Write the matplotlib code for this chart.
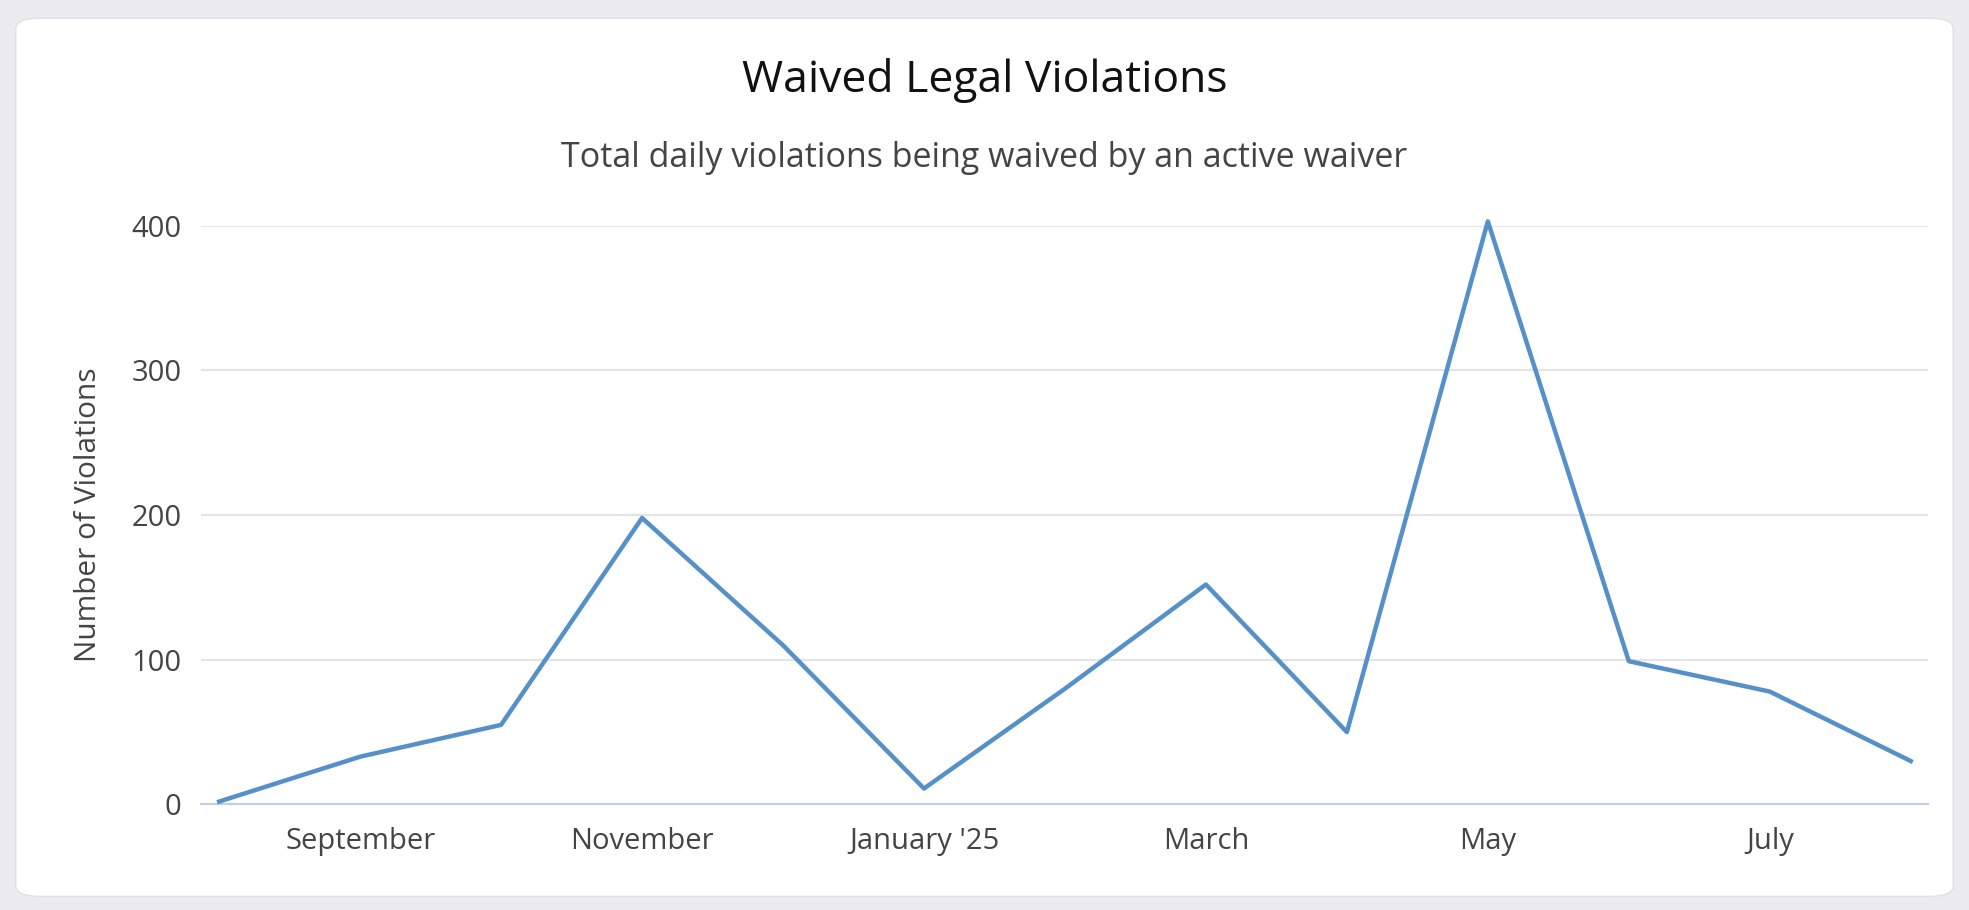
"""Waived legal violations line chart."""
import matplotlib.pyplot as plt
from matplotlib.patches import FancyBboxPatch

months = ['Aug', 'Sep', 'Oct', 'Nov', 'Dec', 'Jan', 'Feb', 'Mar', 'Apr',
          'May', 'Jun', 'Jul', 'Aug']
violations = [2, 33, 55, 198, 110, 11, 80, 152, 50, 403, 99, 78, 30]
tick_pos = [1, 3, 5, 7, 9, 11]
tick_labels = ['September', 'November', "January '25", 'March', 'May', 'July']
y_ticks = [0, 100, 200, 300, 400]

plt.rcParams['font.family'] = ['Open Sans', 'DejaVu Sans']

fig = plt.figure(figsize=(19.69, 9.10), dpi=100)
fig.patch.set_facecolor('#ebebf0')
card = FancyBboxPatch((0.008, 0.015), 0.984, 0.965,
                      boxstyle='round,pad=0,rounding_size=0.012',
                      transform=fig.transFigure, facecolor='white',
                      edgecolor='#e0e0e6', linewidth=1, zorder=-10)
fig.patches.append(card)

ax = fig.add_axes([0.102, 0.116, 0.877, 0.636])
ax.patch.set_alpha(0)
ax.plot(range(len(violations)), violations, color='#5590c8', linewidth=3.2,
        clip_on=False, zorder=3)
ax.set_xlim(-0.13, 12.12)
ax.set_ylim(0, 400)
ax.set_yticks(y_ticks)
ax.set_xticks(tick_pos)
ax.set_xticklabels(tick_labels)
ax.grid(axis='y', color='#e3e3e8', linewidth=1.5)
ax.set_axisbelow(True)
for side in ['top', 'right', 'left']:
    ax.spines[side].set_visible(False)
ax.spines['bottom'].set_color('#bcd0ea')
ax.spines['bottom'].set_linewidth(1.5)
ax.tick_params(axis='both', length=0, labelsize=21, colors='#444444')
ax.tick_params(axis='x', pad=16)
ax.tick_params(axis='y', pad=14)
ax.set_ylabel('Number of Violations', fontsize=21.5, color='#444444',
              labelpad=20)

fig.text(0.5, 0.912, 'Waived Legal Violations', ha='center', va='center',
         fontsize=32, color='#111111')
fig.text(0.5, 0.826, 'Total daily violations being waived by an active waiver',
         ha='center', va='center', fontsize=24.5, color='#444444')

fig.savefig('out.png', facecolor=fig.get_facecolor())
